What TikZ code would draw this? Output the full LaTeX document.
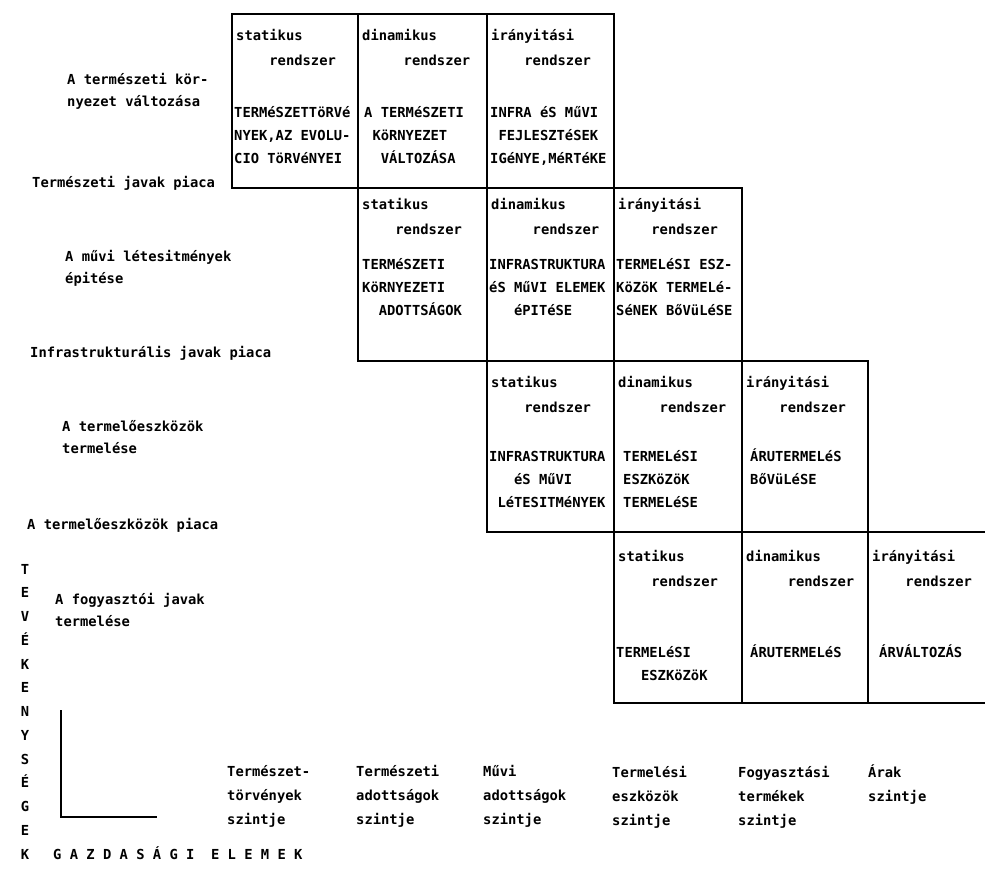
\documentclass[tikz,border=0pt]{standalone}
\usepackage{fontspec}
\setmonofont{DejaVu Sans Mono}
\usetikzlibrary{positioning}
% base of a multi-line node = baseline of its last line
\tikzset{txt/.style = {font=\ttfamily\bfseries\fontsize{13.8pt}{23pt}\selectfont,
                       inner sep=0pt, anchor=base west, align=left}}
\tikzset{hdr/.style = {txt, font=\ttfamily\bfseries\fontsize{13.8pt}{25pt}\selectfont}}
\tikzset{side/.style = {txt, font=\ttfamily\bfseries\fontsize{13.8pt}{22pt}\selectfont}}
\tikzset{level/.style = {txt, font=\ttfamily\bfseries\fontsize{13.8pt}{24pt}\selectfont}}
\tikzset{cellline/.style = {draw, line width=1.2pt}}

\begin{document}
\begin{tikzpicture}[x=1pt, y=-1pt]
        \useasboundingbox (0,0) rectangle (985,873);
        % the four staircase rows
        \draw[cellline] (232,14) rectangle (614,188)
          (358,14) -- (358,188) (487,14) -- (487,188);
        \draw[cellline] (358,188) rectangle (742,361)
          (487,188) -- (487,361) (614,188) -- (614,361);
        \draw[cellline] (487,361) rectangle (868,532)
          (614,361) -- (614,532) (742,361) -- (742,532);
        \draw[cellline] (990,532) -- (614,532) -- (614,703) -- (990,703)
          (742,532) -- (742,703) (868,532) -- (868,703);
        % row 1
        \node[hdr] (s1) at (236,65) {statikus\\~~~~rendszer};
        \node[hdr] (d1) at (362,65) {dinamikus\\~~~~~rendszer};
        \node[hdr] (i1) at (491,65) {irányitási\\~~~~rendszer};
        \node[txt] (s1b) at (234,163) {TERMéSZETTöRVé\\NYEK,AZ EVOLU-\\CIO TöRVéNYEI};
        \node[txt] (d1b) at (364,163) {A TERMéSZETI\\~KöRNYEZET\\~~VÁLTOZÁSA};
        \node[txt] (i1b) at (490,163) {INFRA éS MűVI\\~FEJLESZTéSEK\\IGéNYE,MéRTéKE};
        % row 2
        \node[hdr] (s2) at (362,234) {statikus\\~~~~rendszer};
        \node[hdr] (d2) at (491,234) {dinamikus\\~~~~~rendszer};
        \node[hdr] (i2) at (618,234) {irányitási\\~~~~rendszer};
        \node[txt] (s2b) at (362,315) {TERMéSZETI\\KöRNYEZETI\\~~ADOTTSÁGOK};
        \node[txt] (d2b) at (489,315) {INFRASTRUKTURA\\éS MűVI ELEMEK\\~~~éPITéSE};
        \node[txt] (i2b) at (616,315) {TERMELéSI ESZ-\\KöZöK TERMELé-\\SéNEK BőVüLéSE};
        % row 3
        \node[hdr] (s3) at (491,412) {statikus\\~~~~rendszer};
        \node[hdr] (d3) at (618,412) {dinamikus\\~~~~~rendszer};
        \node[hdr] (i3) at (746,412) {irányitási\\~~~~rendszer};
        \node[txt] (s3b) at (489,507) {INFRASTRUKTURA\\~~~éS MűVI\\~LéTESITMéNYEK};
        \node[txt] (d3b) at (623,507) {TERMELéSI\\ESZKöZöK\\TERMELéSE};
        \node[txt] (i3b) at (750,484) {ÁRUTERMELéS\\BőVüLéSE};
        % row 4
        \node[hdr] (s4) at (618,586) {statikus\\~~~~rendszer};
        \node[hdr] (d4) at (746,586) {dinamikus\\~~~~~rendszer};
        \node[hdr] (i4) at (872,586) {irányitási\\~~~~rendszer};
        \node[txt] (s4b) at (616,680) {TERMELéSI\\~~~ESZKöZöK};
        \node[txt] (d4b) at (750,657) {ÁRUTERMELéS};
        \node[txt] (i4b) at (879,657) {ÁRVÁLTOZÁS};
        % activities on the left
        \node[side] (act1) at (67,106) {A természeti kör-\\nyezet változása};
        \node[side] (mkt1) at (32,187) {Természeti javak piaca};
        \node[side] (act2) at (65,283) {A művi létesitmények\\épitése};
        \node[side] (mkt2) at (30,357) {Infrastrukturális javak piaca};
        \node[side] (act3) at (62,453) {A termelőeszközök\\termelése};
        \node[side] (mkt3) at (27,529) {A termelőeszközök piaca};
        \node[side] (act4) at (55,626) {A fogyasztói javak\\termelése};
        \node[txt, align=center, anchor=base, font=\ttfamily\bfseries\fontsize{13.8pt}{23.75pt}\selectfont]
          (tev) at (25,859) {T\\E\\V\\É\\K\\E\\N\\Y\\S\\É\\G\\E\\K};
        \node[txt] (gazd) at (53,859) {G A Z D A S Á G I~~E L E M E K};
        % small axes
        \coordinate (axtop) at (61,710);
        \coordinate (axo) at (61,817);
        \coordinate (axr) at (157,817);
        \draw[line width=1.2pt] (axtop) -- (axo) -- (axr);
        % levels at the bottom
        \node[level] (lv1) at (227,824) {Természet-\\törvények\\szintje};
        \node[level] (lv2) at (356,824) {Természeti\\adottságok\\szintje};
        \node[level] (lv3) at (483,824) {Művi\\adottságok\\szintje};
        \node[level] (lv4) at (612,825) {Termelési\\eszközök\\szintje};
        \node[level] (lv5) at (738,825) {Fogyasztási\\termékek\\szintje};
        \node[level] (lv6) at (868,801) {Árak\\szintje};
    \end{tikzpicture}
\end{document}
